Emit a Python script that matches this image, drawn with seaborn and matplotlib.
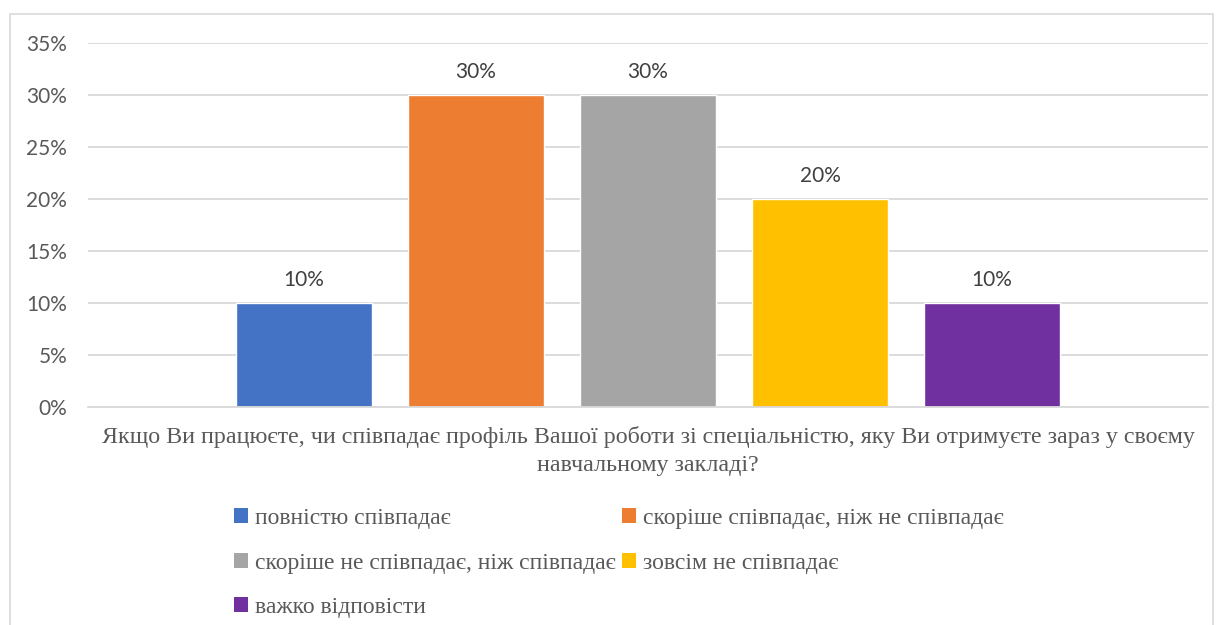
import matplotlib
matplotlib.use("Agg")
import matplotlib.pyplot as plt
from matplotlib.patches import Patch, Rectangle
from matplotlib.ticker import PercentFormatter
import seaborn as sns
import pandas as pd

# chart data
question = ("Якщо Ви працюєте, чи співпадає профіль Вашої роботи зі спеціальністю, "
            "яку Ви отримуєте зараз у своєму\nнавчальному закладі?")
answers = ["повністю співпадає",
           "скоріше співпадає, ніж не співпадає",
           "скоріше не співпадає, ніж співпадає",
           "зовсім не співпадає",
           "важко відповісти"]
shares = [0.10, 0.30, 0.30, 0.20, 0.10]
colors = ["#4472C4", "#ED7D31", "#A5A5A5", "#FFC000", "#7030A0"]
yticks = [0, 0.05, 0.10, 0.15, 0.20, 0.25, 0.30, 0.35]

df = pd.DataFrame({"q": [question] * len(answers), "answer": answers, "share": shares})

sns.set_style("white")
plt.rcParams["font.family"] = ["Lato", "DejaVu Sans"]

fig = plt.figure(figsize=(12.24, 6.25), dpi=100)
ax = fig.add_axes([88 / 1224, 1 - 407 / 625, 1120 / 1224, 364 / 625])

# light frame round the chart area, like the Excel chart border
fig.patches.append(Rectangle((10 / 1224, -0.1), 1203 / 1224, 1.1 - 14 / 625,
                             transform=fig.transFigure, fill=False,
                             edgecolor="#d9d9d9", linewidth=1.2, zorder=0))

sns.barplot(data=df, x="q", y="share", hue="answer", hue_order=answers,
            palette=colors, width=0.768, gap=0.21, saturation=1,
            legend=False, ax=ax)

for cont in ax.containers:
    ax.bar_label(cont, labels=[f"{v * 100:.0f}%" for v in cont.datavalues],
                 padding=9, fontsize=15, color="#404040")

ax.set_xlim(-0.5, 0.5)
ax.set_ylim(0, 0.35)
ax.set_yticks(yticks)
ax.yaxis.set_major_formatter(PercentFormatter(1.0, decimals=0))
ax.grid(axis="y", color="#d9d9d9", linewidth=1.3)
ax.set_axisbelow(True)
for s in ["top", "right", "left"]:
    ax.spines[s].set_visible(False)
ax.spines["bottom"].set_color("#d9d9d9")
ax.spines["bottom"].set_linewidth(1.3)
ax.tick_params(axis="y", length=0, pad=15, labelsize=15, labelcolor="#595959")
ax.tick_params(axis="x", length=0, pad=14)
ax.set_xticks([0])
ax.set_xticklabels([question], fontsize=17.3, color="#595959",
                   family=["Liberation Serif"], linespacing=1.38)
ax.set_xlabel("")
ax.set_ylabel("")

# legend filled row by row, two columns
handles = [Patch(facecolor=c, edgecolor="none") for c in colors]
order = [0, 2, 4, 1, 3]
fig.legend([handles[i] for i in order], [answers[i] for i in order],
           loc="upper left", bbox_to_anchor=(234 / 1224, 1 - 508 / 625),
           ncol=2, frameon=False, borderpad=0, borderaxespad=0,
           handlelength=0.6, handleheight=0.6, handletextpad=0.3,
           columnspacing=0.25, labelspacing=1.0,
           prop={"family": "Liberation Serif", "size": 17},
           labelcolor="#595959")

fig.savefig("out.png", dpi=100)
